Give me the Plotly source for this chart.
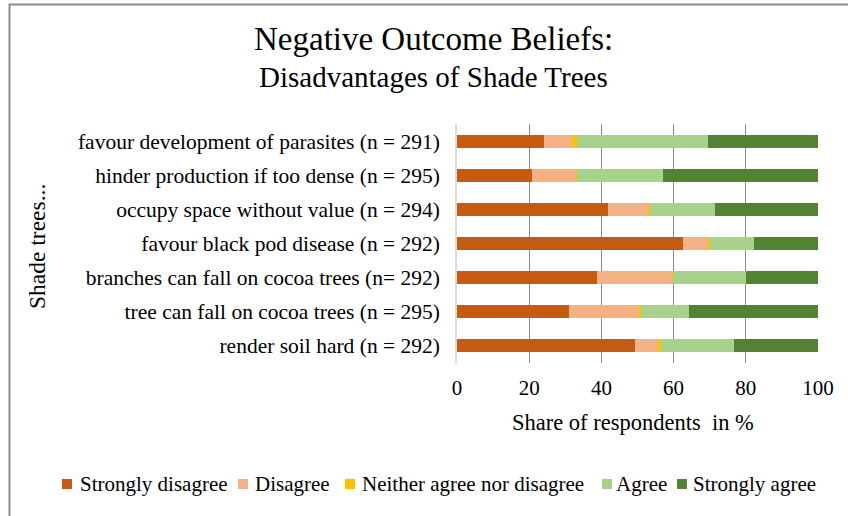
import plotly.graph_objects as go

# Statements (top to bottom as drawn)
statements = [
    "favour development of parasites (n = 291)",
    "hinder production if too dense (n = 295)",
    "occupy space without value (n = 294)",
    "favour black pod disease (n = 292)",
    "branches can fall on cocoa trees (n= 292)",
    "tree can fall on cocoa trees (n = 295)",
    "render soil hard (n = 292)",
]

# Share of respondents in % per answer category
strongly_disagree = [24.0, 20.9, 41.8, 62.6, 38.7, 31.1, 49.2]
disagree = [7.9, 12.1, 11.3, 6.8, 20.9, 19.4, 6.6]
neither = [1.4, 0.3, 0.3, 0.7, 0.2, 0.4, 0.7]
agree = [36.1, 23.7, 18.1, 12.1, 20.3, 13.5, 20.1]
strongly_agree = [30.6, 43.0, 28.5, 17.8, 19.9, 35.6, 23.4]

category_names = ["Strongly disagree", "Disagree", "Neither agree nor disagree",
                  "Agree", "Strongly agree"]
category_values = [strongly_disagree, disagree, neither, agree, strongly_agree]
category_colors = ["#C55A11", "#F4B183", "#FFC000", "#A9D18E", "#548235"]

x_ticks = [0, 20, 40, 60, 80, 100]

FONT = "Liberation Serif, Times New Roman, serif"

W, H = 848, 516
ML, MR, MT, MB = 457, 30, 124, 153
PW, PH = W - ML - MR, H - MT - MB


def fx(px):
    """Pixel x (from left) to paper x."""
    return (px - ML) / PW


def fy(py):
    """Pixel y (from top) to paper y."""
    return (H - MB - py) / PH


fig = go.Figure()
for name, vals, color in zip(category_names, category_values, category_colors):
    fig.add_trace(go.Bar(
        y=statements,
        x=vals,
        name=name,
        orientation="h",
        marker=dict(color=color, line=dict(width=0)),
        showlegend=False,
    ))

fig.update_layout(
    barmode="stack",
    bargap=0.62,
    width=W,
    height=H,
    margin=dict(l=ML, r=MR, t=MT, b=MB, autoexpand=False),
    paper_bgcolor="white",
    plot_bgcolor="white",
    font=dict(family=FONT, color="black", size=21),
    showlegend=False,
    xaxis=dict(
        range=[0, 100],
        tickvals=x_ticks,
        ticktext=[str(v) for v in x_ticks],
        showgrid=True,
        gridcolor="#8C8C8C",
        gridwidth=1,
        zeroline=False,
        showline=False,
        ticks="",
        automargin=False,
        ticklabelstandoff=10,
        tickfont=dict(family=FONT, size=21, color="black"),
    ),
    yaxis=dict(
        categoryorder="array",
        categoryarray=statements[::-1],
        showgrid=False,
        showline=True,
        linecolor="#D9D9D9",
        linewidth=1.5,
        ticks="",
        automargin=False,
        ticklabelstandoff=11,
        tickfont=dict(family=FONT, size=21.5, color="black"),
    ),
)


def text_at(text, px, py, size, anchor="center", angle=0):
    fig.add_annotation(text=text, x=fx(px), y=fy(py), xref="paper", yref="paper",
                       showarrow=False, xanchor=anchor, yanchor="middle", textangle=angle,
                       font=dict(family=FONT, size=size, color="black"))


# Heading (two lines, different sizes)
text_at("Negative Outcome Beliefs:", 433, 39, 33)
text_at("Disadvantages of Shade Trees", 433, 77, 29)

# Axis titles
text_at("Share of respondents\u00a0 in %", 633, 422, 22.5)
text_at("Shade trees...", 37, 247, 23.5, angle=-90)

# Legend: coloured squares followed by labels
legend_square_x = [62, 238, 345, 602, 677]
legend_text_x = [78, 253, 360, 614, 691]
legend_y = 484
for name, color, sx, tx in zip(category_names, category_colors, legend_square_x, legend_text_x):
    fig.add_shape(type="rect", xref="paper", yref="paper",
                  x0=fx(sx), x1=fx(sx + 10), y0=fy(legend_y + 5), y1=fy(legend_y - 5),
                  line=dict(width=0), fillcolor=color)
    text_at(name, tx, legend_y, 21, anchor="left")

# Outer chart frame (left and top edges visible)
fig.add_shape(type="rect", xref="paper", yref="paper",
              x0=fx(9.5), x1=fx(W + 20), y0=fy(H + 20), y1=fy(4.5),
              line=dict(color="#8C8C8C", width=2), fillcolor="rgba(0,0,0,0)", layer="below")

fig.write_html("out.html")
